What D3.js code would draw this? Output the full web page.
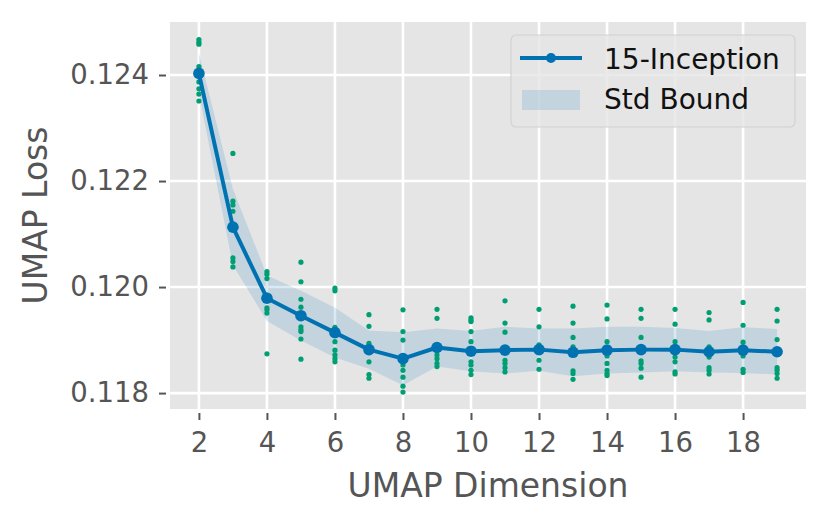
<!DOCTYPE html>
<html>
<head>
<meta charset="utf-8">
<script src="https://cdn.jsdelivr.net/npm/d3@7"></script>
<style>
  body { margin: 0; background: #fff; }
  text { font-family: "DejaVu Sans", sans-serif; }
</style>
</head>
<body>
<div id="chart"></div>
<script>
// dimensions on the x axis
var dims = [2, 3, 4, 5, 6, 7, 8, 9, 10, 11, 12, 13, 14, 15, 16, 17, 18, 19];

// mean loss per dimension (line)
var meanLoss = [0.12403, 0.12113, 0.11979, 0.11946, 0.11914, 0.11882, 0.11865, 0.11886, 0.11879,
	0.11881, 0.11882, 0.11877, 0.11881, 0.11882, 0.11882, 0.11878, 0.11881, 0.11878];

// std per dimension (band)
var stdLoss = [0.00038, 0.00072, 0.00043, 0.00047, 0.00047, 0.00036, 0.0005, 0.00036, 0.00038,
	0.00044, 0.0004, 0.00045, 0.00044, 0.00043, 0.00041, 0.00039, 0.00043, 0.00043];

// single runs per dimension (green dots)
var runs = [
	[0.12467, 0.12462, 0.12458, 0.12416, 0.12405, 0.12387, 0.12374, 0.12364, 0.12351],
	[0.12252, 0.12162, 0.12155, 0.12143, 0.1211, 0.12055, 0.12048, 0.12038],
	[0.12029, 0.12024, 0.12016, 0.11985, 0.11961, 0.11957, 0.11951, 0.11874],
	[0.12047, 0.1201, 0.11977, 0.11962, 0.11925, 0.1192, 0.11916, 0.11902, 0.11864],
	[0.11998, 0.11993, 0.11924, 0.11916, 0.11897, 0.11881, 0.11872, 0.11865, 0.11859],
	[0.11948, 0.11926, 0.11894, 0.1188, 0.11859, 0.11835, 0.11828],
	[0.11957, 0.11916, 0.119, 0.11865, 0.11853, 0.11843, 0.1183, 0.11813, 0.11802],
	[0.11958, 0.11941, 0.11886, 0.11872, 0.11865, 0.11856, 0.1185],
	[0.11942, 0.11938, 0.11935, 0.11916, 0.11897, 0.11859, 0.11853, 0.11843, 0.11835],
	[0.11974, 0.11932, 0.11915, 0.11862, 0.11856, 0.11848, 0.1184],
	[0.11958, 0.11925, 0.11891, 0.11862, 0.11845],
	[0.11964, 0.11932, 0.11905, 0.11887, 0.11842, 0.11837, 0.11826],
	[0.11966, 0.1194, 0.11897, 0.1187, 0.11856, 0.11843, 0.11837, 0.11833],
	[0.11958, 0.11941, 0.11905, 0.11861, 0.11856, 0.11847, 0.1183],
	[0.11958, 0.1193, 0.11897, 0.11868, 0.11859, 0.1184, 0.11836],
	[0.11952, 0.11938, 0.11887, 0.11868, 0.11848, 0.11843, 0.11836],
	[0.11971, 0.11928, 0.11896, 0.1187, 0.11845, 0.11839],
	[0.11958, 0.11936, 0.11901, 0.11848, 0.11843, 0.11837, 0.11828]
];

var xTicks = [2, 4, 6, 8, 10, 12, 14, 16, 18];
var yTicks = [0.118, 0.12, 0.122, 0.124];

var seriesName = '15-Inception';
var bandName = 'Std Bound';

var W = 830, H = 525;
var pL = 170, pR = 806, pT = 22, pB = 409;

var blue = '#0072B2', green = '#009E73', grey = '#555555';

var svg = d3.select('#chart').append('svg')
	.attr('width', W)
	.attr('height', H);

var x = d3.scaleLinear().domain([1.15, 19.85]).range([pL, pR]);
var y = d3.scaleLinear().domain([0.1177, 0.125]).range([pB, pT]);

// panel background
svg.append('rect')
	.attr('x', pL).attr('y', pT)
	.attr('width', pR - pL).attr('height', pB - pT)
	.attr('fill', '#E5E5E5');

// grid
svg.append('g').selectAll('line').data(xTicks).enter().append('line')
	.attr('x1', function (d) { return x(d); })
	.attr('x2', function (d) { return x(d); })
	.attr('y1', pT).attr('y2', pB)
	.attr('stroke', '#fff').attr('stroke-width', 2.6);
svg.append('g').selectAll('line').data(yTicks).enter().append('line')
	.attr('y1', function (d) { return y(d); })
	.attr('y2', function (d) { return y(d); })
	.attr('x1', pL).attr('x2', pR)
	.attr('stroke', '#fff').attr('stroke-width', 2.6);

// axes
var xAxis = d3.axisBottom(x).tickValues(xTicks).tickSize(7).tickPadding(12).tickFormat(d3.format('d'));
var yAxis = d3.axisLeft(y).tickValues(yTicks).tickSize(7).tickPadding(10).tickFormat(d3.format('.3f'));

var gx = svg.append('g').attr('transform', 'translate(0,' + (pB + 4) + ')').call(xAxis);
var gy = svg.append('g').attr('transform', 'translate(' + (pL - 4) + ',0)').call(yAxis);
[gx, gy].forEach(function (g) {
	g.select('.domain').remove();
	g.selectAll('.tick line').attr('stroke', grey).attr('stroke-width', 2);
	g.selectAll('.tick text')
		.attr('fill', grey)
		.style('font-size', '27.5px');
});

// std band
var band = d3.area()
	.x(function (d, i) { return x(dims[i]); })
	.y0(function (d, i) { return y(meanLoss[i] - stdLoss[i]); })
	.y1(function (d, i) { return y(meanLoss[i] + stdLoss[i]); });

svg.append('path')
	.datum(dims)
	.attr('d', band)
	.attr('fill', blue)
	.attr('fill-opacity', 0.15);

// single runs
var pts = [];
runs.forEach(function (r, i) {
	r.forEach(function (v) { pts.push({ dim: dims[i], v: v }); });
});
svg.append('g').selectAll('circle').data(pts).enter().append('circle')
	.attr('cx', function (d) { return x(d.dim); })
	.attr('cy', function (d) { return y(d.v); })
	.attr('r', 2.6)
	.attr('fill', green);

// mean line
var line = d3.line()
	.x(function (d, i) { return x(dims[i]); })
	.y(function (d) { return y(d); });

svg.append('path')
	.datum(meanLoss)
	.attr('d', line)
	.attr('fill', 'none')
	.attr('stroke', blue)
	.attr('stroke-width', 4)
	.attr('stroke-linejoin', 'round');

svg.append('g').selectAll('circle').data(meanLoss).enter().append('circle')
	.attr('cx', function (d, i) { return x(dims[i]); })
	.attr('cy', function (d) { return y(d); })
	.attr('r', 5.8)
	.attr('fill', blue);

// axis labels
svg.append('text')
	.attr('x', (pL + pR) / 2).attr('y', 497)
	.attr('text-anchor', 'middle')
	.attr('fill', grey)
	.style('font-size', '33px')
	.text('UMAP Dimension');

svg.append('text')
	.attr('transform', 'translate(47,' + (pT + pB) / 2 + ') rotate(-90)')
	.attr('text-anchor', 'middle')
	.attr('fill', grey)
	.style('font-size', '33px')
	.text('UMAP Loss');

// legend
var lg = svg.append('g');
lg.append('rect')
	.attr('x', 511).attr('y', 35)
	.attr('width', 284).attr('height', 92)
	.attr('rx', 5)
	.attr('fill', '#E5E5E5').attr('fill-opacity', 0.8)
	.attr('stroke', '#D2D2D2').attr('stroke-width', 1.2);
lg.append('line')
	.attr('x1', 520).attr('x2', 582)
	.attr('y1', 58).attr('y2', 58)
	.attr('stroke', blue).attr('stroke-width', 4);
lg.append('circle')
	.attr('cx', 551).attr('cy', 58).attr('r', 5)
	.attr('fill', blue);
lg.append('rect')
	.attr('x', 522).attr('y', 90)
	.attr('width', 58).attr('height', 20)
	.attr('fill', blue).attr('fill-opacity', 0.15);
lg.append('text')
	.attr('x', 604).attr('y', 69)
	.attr('fill', '#111')
	.style('font-size', '28px')
	.text(seriesName);
lg.append('text')
	.attr('x', 604).attr('y', 109)
	.attr('fill', '#111')
	.style('font-size', '28px')
	.text(bandName);
</script>
</body>
</html>
